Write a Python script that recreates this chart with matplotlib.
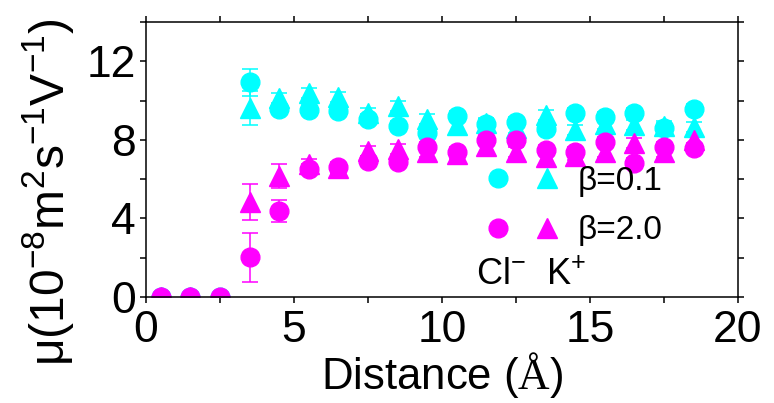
import numpy as np
import matplotlib
matplotlib.use("Agg")
import matplotlib.pyplot as plt
from matplotlib.legend_handler import HandlerTuple
from matplotlib.lines import Line2D
from matplotlib.ticker import MultipleLocator

plt.rcParams['font.family'] = ['Liberation Sans', 'DejaVu Sans']
plt.rcParams['mathtext.fontset'] = 'custom'
plt.rcParams['mathtext.rm'] = 'Liberation Sans'
plt.rcParams['mathtext.it'] = 'Liberation Sans:italic'
plt.rcParams['mathtext.sf'] = 'Liberation Serif'

distance = [0.5, 1.5, 2.5, 3.5, 4.5, 5.5, 6.5, 7.5, 8.5, 9.5,
            10.5, 11.5, 12.5, 13.5, 14.5, 15.5, 16.5, 17.5, 18.5]

cl_b01 = [0, 0, 0, 10.93, 9.57, 9.52, 9.49, 9.06, 8.69, 8.37,
          9.21, 8.8, 8.89, 8.54, 9.38, 9.15, 9.35, 8.59, 9.56]
cl_b01_err = [0, 0, 0, 0.7, 0.25, 0.25, 0.25, 0.25, 0.25, 0.25,
              0.25, 0.25, 0.25, 0.25, 0.25, 0.25, 0.25, 0.25, 0.25]
k_b01 = [0, 0, np.nan, 9.62, 10.12, 10.37, 10.2, 9.39, 9.72, 9.08,
         8.76, 8.85, 8.6, 9.27, 8.5, 8.79, 8.76, 8.7, 8.67]
k_b01_err = [0, 0, 0, 0.85, 0.25, 0.25, 0.25, 0.25, 0.25, 0.25,
             0.35, 0.25, 0.25, 0.25, 0.25, 0.25, 0.25, 0.25, 0.25]
cl_b20 = [0, 0, 0, 2.02, 4.38, 6.5, 6.63, 6.92, 6.86, 7.62,
          7.40, 8.0, 8.0, 7.48, 7.40, 7.91, 6.84, 7.65, 7.57]
cl_b20_err = [0, 0, 0, 1.25, 0.55, 0.25, 0.25, 0.25, 0.25, 0.25,
              0.25, 0.25, 0.25, 0.25, 0.25, 0.25, 0.25, 0.25, 0.25]
k_b20 = [0, 0, np.nan, 4.84, 6.16, 6.77, 6.56, 7.43, 7.52, 7.4,
         7.3, 7.7, 7.4, 7.14, 7.2, 7.4, 7.82, 7.4, 8.0]
k_b20_err = [0, 0, 0, 0.9, 0.6, 0.25, 0.25, 0.25, 0.25, 0.25,
             0.25, 0.35, 0.25, 0.35, 0.25, 0.25, 0.25, 0.25, 0.25]

CYAN = '#00ffff'
MAG = '#ff00ff'

fig = plt.figure(figsize=(7.74, 4.03), dpi=100)
ax = fig.add_axes([146/774, 1-297/403, (738-146)/774, (297-22)/403])

ms = 13.5
ekw = dict(linestyle='none', capsize=6, elinewidth=1.1, capthick=1.1)
ax.errorbar(distance, cl_b01, yerr=cl_b01_err, marker='o', ms=ms, color=CYAN, **ekw)
ax.errorbar(distance, k_b01, yerr=k_b01_err, marker='^', ms=ms+1, color=CYAN, **ekw)
ax.errorbar(distance, k_b20, yerr=k_b20_err, marker='^', ms=ms+1, color=MAG, **ekw)
ax.errorbar(distance, cl_b20, yerr=cl_b20_err, marker='o', ms=ms, color=MAG, **ekw)

ax.set_xlim(0, 20)
ax.set_ylim(0, 14)
ax.xaxis.set_major_locator(MultipleLocator(5))
ax.xaxis.set_minor_locator(MultipleLocator(2.5))
ax.yaxis.set_major_locator(MultipleLocator(4))
ax.yaxis.set_minor_locator(MultipleLocator(2))
ax.tick_params(which='both', direction='out', top=True, right=True,
               labelsize=32, width=1.1)
ax.tick_params(axis='x', pad=5)
ax.tick_params(axis='y', pad=3)
ax.tick_params(which='major', length=4.5)
ax.tick_params(which='minor', length=4)
for s in ax.spines.values():
    s.set_linewidth(1.1)

fig.text(48/774, 1-192/403, "μ(10$^{-8}$m$^{2}$s$^{-1}$V$^{-1}$)",
         rotation=90, ha='center', va='center', fontsize=34.5)
ax.set_xlabel("Distance ($\\mathsf{Å}$)", fontsize=31.5, labelpad=-1)

h1 = (Line2D([], [], ls='none', marker='o', ms=ms, color=CYAN),
      Line2D([], [], ls='none', marker='^', ms=ms+1, color=CYAN))
h2 = (Line2D([], [], ls='none', marker='o', ms=ms, color=MAG),
      Line2D([], [], ls='none', marker='^', ms=ms+1, color=MAG))
ax.legend([h1, h2], ["β=0.1", "β=2.0"],
          handler_map={tuple: HandlerTuple(ndivide=None, pad=1.05)},
          loc='center left', bbox_to_anchor=((491-146)/592, (297-206)/275),
          frameon=False, fontsize=24, handlelength=1.89, handletextpad=0.72,
          labelspacing=0.55, borderaxespad=0, borderpad=0)
ax.text((476-146)/592, 0.015, "Cl$^{-}$  K$^{+}$", transform=ax.transAxes,
        fontsize=26, ha='left', va='bottom')

fig.savefig("out.png", dpi=100)
